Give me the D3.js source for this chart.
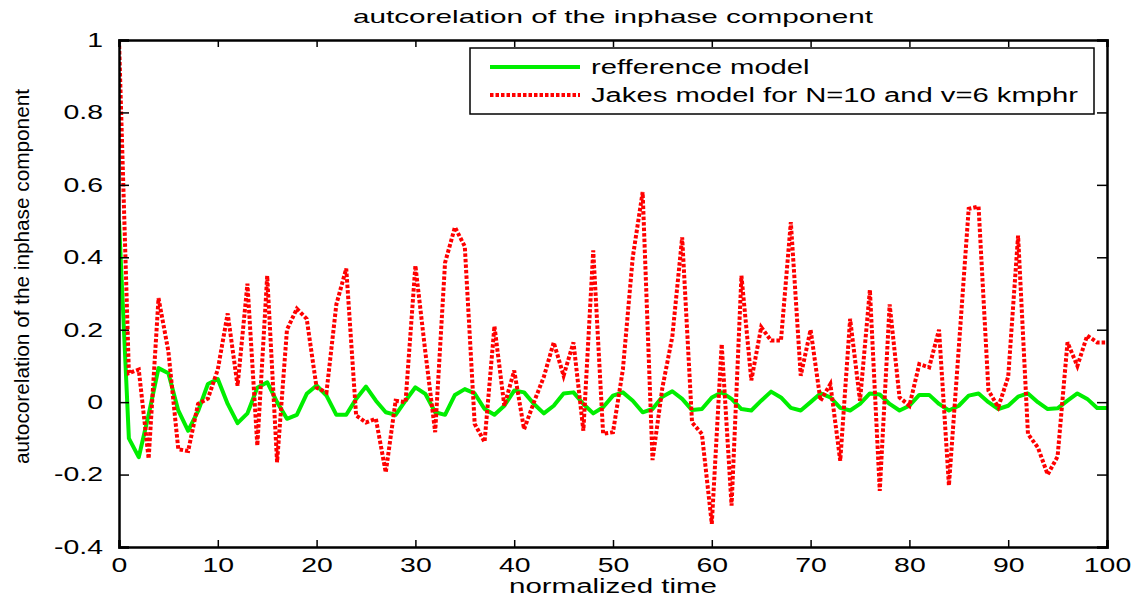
<!DOCTYPE html>
<html>
<head>
<meta charset="utf-8">
<script src="https://cdn.jsdelivr.net/npm/d3@7"></script>
<style>
  body { margin: 0; background: #fff; }
  text { font-family: "Liberation Sans", Arial, sans-serif; fill: #000; }
</style>
</head>
<body>
<span></span>
<script>
// data, one value per integer step of normalized time
let times = d3.range(0, 101);
let referenceModel = [
  0.5, -0.1, -0.152, -0.035, 0.094, 0.08, -0.023, -0.079, -0.025, 0.05,
  0.064, -0.005, -0.058, -0.031, 0.04, 0.055, 0.0, -0.046, -0.035, 0.023,
  0.046, 0.018, -0.035, -0.035, 0.009, 0.043, 0.004, -0.028, -0.035, 0.004,
  0.041, 0.023, -0.028, -0.035, 0.02, 0.036, 0.024, -0.019, -0.035, -0.01,
  0.032, 0.027, -0.005, -0.031, -0.01, 0.024, 0.027, -0.005, -0.031, -0.014,
  0.018, 0.027, 0.004, -0.028, -0.019, 0.015, 0.03, 0.009, -0.022, -0.019,
  0.013, 0.027, 0.009, -0.019, -0.023, 0.004, 0.029, 0.013, -0.016, -0.023,
  0.0, 0.024, 0.013, -0.016, -0.023, -0.005, 0.024, 0.021, -0.005, -0.023,
  -0.01, 0.02, 0.02, -0.005, -0.023, -0.01, 0.018, 0.024, 0.0, -0.019,
  -0.01, 0.015, 0.024, 0.0, -0.019, -0.017, 0.004, 0.024, 0.009, -0.016,
  -0.016
];
let jakesModel = [
  1.0, 0.08, 0.09, -0.156, 0.287, 0.14, -0.13, -0.135, -0.005, 0.01,
  0.09, 0.245, 0.045, 0.327, -0.12, 0.349, -0.166, 0.2, 0.258, 0.23,
  0.04, 0.027, 0.27, 0.369, -0.037, -0.056, -0.046, -0.194, 0.004, 0.0,
  0.377, 0.14, -0.083, 0.385, 0.483, 0.43, -0.06, -0.11, 0.21, -0.01,
  0.087, -0.075, 0.0, 0.07, 0.165, 0.073, 0.165, -0.079, 0.419, -0.087,
  -0.083, 0.09, 0.4, 0.58, -0.16, 0.04, 0.18, 0.455, -0.056, -0.088,
  -0.336, 0.16, -0.286, 0.349, 0.06, 0.207, 0.17, 0.17, 0.497, 0.073,
  0.2, 0.004, 0.05, -0.162, 0.23, 0.004, 0.31, -0.245, 0.27, 0.013,
  -0.01, 0.105, 0.096, 0.2, -0.23, 0.15, 0.534, 0.54, 0.032, -0.014,
  0.07, 0.46, -0.088, -0.125, -0.2, -0.15, 0.165, 0.1, 0.184, 0.165,
  0.165
];
let xTicks = [0, 10, 20, 30, 40, 50, 60, 70, 80, 90, 100];
let yTicks = [-0.4, -0.2, 0, 0.2, 0.4, 0.6, 0.8, 1];
let legendLabels = ["refference model", "Jakes model for N=10 and v=6 kmphr"];

let width = 1142;
let height = 600;
let plotLeft = 119, plotTop = 40, plotRight = 1107, plotBottom = 547;
let stretchX = 1.42; // the original picture is widened, text looks broad

let svg = d3.select("span")
    .append("svg")
    .attr("width", width)
    .attr("height", height)
    .style("display", "block");

// widen a text element horizontally by a factor
function widen(sel, k) {
    sel.each(function () {
        let w = this.getComputedTextLength();
        d3.select(this)
            .attr("textLength", w * k)
            .attr("lengthAdjust", "spacingAndGlyphs");
    });
}

let x = d3.scaleLinear().domain([0, 100]).range([plotLeft, plotRight]);
let y = d3.scaleLinear().domain([-0.4, 1]).range([plotBottom, plotTop]);

// clip so lines stay inside the box
svg.append("clipPath").attr("id", "plotclip")
    .append("rect")
    .attr("x", plotLeft).attr("y", plotTop)
    .attr("width", plotRight - plotLeft).attr("height", plotBottom - plotTop);

let line = d3.line()
    .x((d, i) => x(times[i]))
    .y(d => y(d));

let plot = svg.append("g").attr("clip-path", "url(#plotclip)");

plot.append("path")
    .attr("d", line(referenceModel))
    .attr("fill", "none")
    .attr("stroke", "#00ee00")
    .attr("stroke-width", 4)
    .attr("stroke-linejoin", "round");

plot.append("path")
    .attr("d", line(jakesModel))
    .attr("fill", "none")
    .attr("stroke", "#ff0000")
    .attr("stroke-width", 4)
    .attr("stroke-dasharray", "3.5,2");

// axes (matlab style: inward ticks on all sides)
let fmt = d => (d === 0 || d === 1) ? String(d) : d.toFixed(1);

let xBottom = svg.append("g")
    .attr("transform", "translate(0," + plotBottom + ")")
    .call(d3.axisBottom(x).tickValues(xTicks).tickSize(-7).tickPadding(10).tickFormat(d3.format("d")));
let xTop = svg.append("g")
    .attr("transform", "translate(0," + plotTop + ")")
    .call(d3.axisTop(x).tickValues(xTicks).tickSize(-7).tickFormat(""));
let yLeft = svg.append("g")
    .attr("transform", "translate(" + plotLeft + ",0)")
    .call(d3.axisLeft(y).tickValues(yTicks).tickSize(-10).tickPadding(16).tickFormat(fmt));
let yRight = svg.append("g")
    .attr("transform", "translate(" + plotRight + ",0)")
    .call(d3.axisRight(y).tickValues(yTicks).tickSize(-10).tickFormat(""));

[xBottom, xTop, yLeft, yRight].forEach(g => {
    g.select(".domain").attr("stroke", "#000").attr("stroke-width", 2.5);
    g.selectAll(".tick line").attr("stroke", "#000").attr("stroke-width", 1.5);
    g.selectAll(".tick text")
        .style("font-family", "'Liberation Sans', Arial, sans-serif")
        .style("font-size", "20px")
        .attr("fill", "#000");
});
xBottom.selectAll(".tick text").attr("dy", "0.75em");
widen(xBottom.selectAll(".tick text"), stretchX);
widen(yLeft.selectAll(".tick text"), stretchX);

// title and axis labels
svg.append("text")
    .attr("x", (plotLeft + plotRight) / 2)
    .attr("y", 23)
    .attr("text-anchor", "middle")
    .attr("textLength", 520)
    .attr("lengthAdjust", "spacingAndGlyphs")
    .style("font-size", "19px")
    .text("autcorelation of the inphase component");

svg.append("text")
    .attr("x", (plotLeft + plotRight) / 2)
    .attr("y", 593)
    .attr("text-anchor", "middle")
    .attr("textLength", 208)
    .attr("lengthAdjust", "spacingAndGlyphs")
    .style("font-size", "20px")
    .text("normalized time");

svg.append("text")
    .attr("transform", "translate(29," + ((plotTop + plotBottom) / 2 - 17) + ") rotate(-90)")
    .attr("text-anchor", "middle")
    .attr("textLength", 375)
    .attr("lengthAdjust", "spacingAndGlyphs")
    .style("font-size", "20px")
    .text("autocorelation of the inphase component");

// legend
let legendX = 470, legendY = 48, legendW = 624, legendH = 66;
svg.append("rect")
    .attr("x", legendX).attr("y", legendY)
    .attr("width", legendW).attr("height", legendH)
    .attr("fill", "#fff")
    .attr("stroke", "#000")
    .attr("stroke-width", 1.5);

let legendColors = ["#00ee00", "#ff0000"];
let legendDash = [null, "3.5,2"];
legendLabels.forEach((label, i) => {
    let ly = legendY + 19 + i * 28;
    svg.append("line")
        .attr("x1", legendX + 20).attr("x2", legendX + 110)
        .attr("y1", ly).attr("y2", ly)
        .attr("stroke", legendColors[i])
        .attr("stroke-width", 4)
        .attr("stroke-dasharray", legendDash[i]);
    let t = svg.append("text")
        .attr("x", legendX + 121)
        .attr("y", ly + 7)
        .style("font-size", "20px")
        .text(label);
    widen(t, 1.46);
});
</script>
</body>
</html>
